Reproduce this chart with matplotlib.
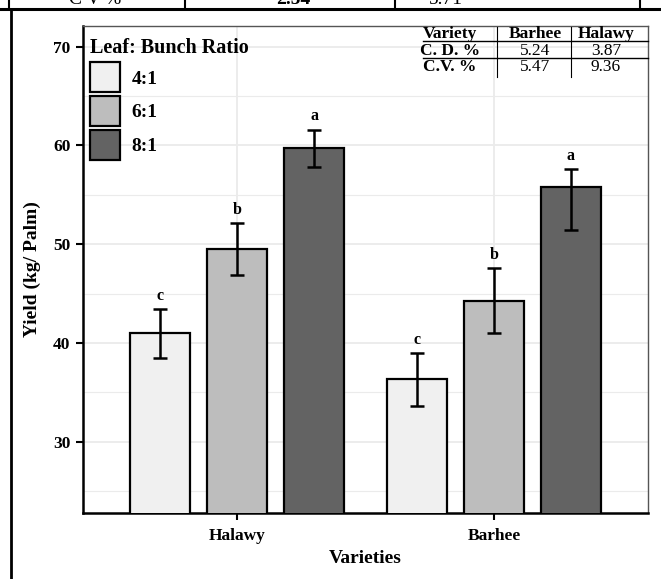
import numpy as np
import matplotlib
matplotlib.use("Agg")
import matplotlib.pyplot as plt
from matplotlib.patches import Patch
from matplotlib.lines import Line2D

plt.rcParams['font.family'] = ['Liberation Serif', 'DejaVu Serif']
plt.rcParams['font.weight'] = 'bold'

# data
varieties = ['Halawy', 'Barhee']
ratios = ['4:1', '6:1', '8:1']
colors = ['#F0F0F0', '#BDBDBD', '#636363']
yield_vals = [[41.0, 49.5, 59.75],   # Halawy
              [36.3, 44.3, 55.8]]    # Barhee
err_low = [[2.55, 2.6, 1.9],
           [2.65, 3.25, 4.4]]
err_high = [[2.45, 2.6, 1.85],
            [2.65, 3.25, 1.8]]
letters = [['c', 'b', 'a'],
           ['c', 'b', 'a']]

# little stats table in the corner
tbl_head = ['Variety', 'Barhee', 'Halawy']
tbl_rows = [['C. D. %', '5.24', '3.87'],
            ['C.V. %', '5.47', '9.36']]
# cut-off row of the document table above the chart
top_row = ['C V %', '2.54', '5.71']

W, H = 661, 579
fig = plt.figure(figsize=(W / 100, H / 100), dpi=100)
ax = fig.add_axes([83 / W, 1 - 513 / H, 565 / W, 487 / H])

width = 0.236
step = 0.30
xpos = np.arange(1, len(varieties) + 1)

for j, r in enumerate(ratios):
    xs = xpos + (j - 1) * step
    vals = [yield_vals[i][j] for i in range(len(varieties))]
    lo = [err_low[i][j] for i in range(len(varieties))]
    hi = [err_high[i][j] for i in range(len(varieties))]
    ax.bar(xs, vals, width=width, color=colors[j], edgecolor='black',
           linewidth=1.6, zorder=3)
    ax.errorbar(xs, vals, yerr=[lo, hi], fmt='none', ecolor='black',
                elinewidth=1.8, capsize=4.8, capthick=1.8, zorder=4)
    for i in range(len(varieties)):
        ax.annotate(letters[i][j], (xs[i], vals[i] + hi[i]),
                    xytext=(0, 9.5), textcoords='offset points',
                    ha='center', va='center', fontsize=11.5, fontweight='bold')

ax.set_xlim(0.4, 2.6)
ax.set_ylim(22.78, 72.1)
ax.set_xticks(xpos)
ax.set_xticklabels(varieties)
ax.set_yticks([30, 40, 50, 60, 70])
ax.set_yticks([25, 35, 45, 55, 65], minor=True)
ax.grid(which='major', color='#EBEBEB', linewidth=1.3, zorder=0)
ax.grid(which='minor', axis='y', color='#EBEBEB', linewidth=0.8, zorder=0)
ax.set_axisbelow(True)
ax.tick_params(axis='both', which='major', length=5, width=1.5, color='black',
               labelsize=12.5, pad=4)
ax.tick_params(axis='x', which='major', pad=6)
ax.tick_params(axis='y', which='minor', length=0)
for lab in ax.get_xticklabels() + ax.get_yticklabels():
    lab.set_fontweight('bold')
for s in ['left', 'bottom']:
    ax.spines[s].set_linewidth(1.8)
    ax.spines[s].set_color('black')
for s in ['top', 'right']:
    ax.spines[s].set_linewidth(1.0)
    ax.spines[s].set_color('#555555')

ax.set_xlabel('Varieties', fontsize=14, fontweight='bold', labelpad=4)
ax.set_ylabel('Yield (kg/ Palm)', fontsize=14, fontweight='bold', labelpad=9)

handles = [Patch(facecolor=c, edgecolor='black', linewidth=1.6) for c in colors]
leg = ax.legend(handles, ratios, title='Leaf: Bunch Ratio', loc='upper left',
                bbox_to_anchor=(0.012, 0.975), frameon=False, fontsize=14,
                title_fontproperties={'weight': 'bold', 'size': 14.5},
                handlelength=1.55, handleheight=2.0, labelspacing=0.2,
                handletextpad=0.6, borderpad=0.0, borderaxespad=0.0,
                alignment='left')
leg._legend_box.sep = 3
for t in leg.get_texts():
    t.set_fontweight('bold')


# stats table, drawn in pixel positions of the figure
def px(x, y):
    return x / W, 1 - y / H


col_x = [450, 535, 606]
row_y = [34, 51, 67]
for k, txt in enumerate(tbl_head):
    fig.text(*px(col_x[k], row_y[0]), txt, ha='center', va='center',
             fontsize=12.5, fontweight='bold')
for r, row in enumerate(tbl_rows):
    for k, txt in enumerate(row):
        fig.text(*px(col_x[k], row_y[r + 1]), txt, ha='center', va='center',
                 fontsize=12.5, fontweight='bold' if k == 0 else 'normal')
for yline in [40.5, 58]:
    fig.add_artist(Line2D([423 / W, 648 / W], [1 - yline / H] * 2,
                          color='black', linewidth=1.0))
for xline in [497, 571]:
    fig.add_artist(Line2D([xline / W] * 2, [1 - 27 / H, 1 - 77 / H],
                          color='black', linewidth=0.8))

# frame of the document page around the chart
fig.add_artist(Line2D([0, 1], [1 - 8.5 / H] * 2, color='black', linewidth=2.2))
fig.add_artist(Line2D([10.5 / W] * 2, [1 - 9 / H, 0], color='black', linewidth=2.0))
for xline in [9, 185, 395, 640]:
    fig.add_artist(Line2D([xline / W] * 2, [1, 1 - 9 / H], color='black',
                          linewidth=1.5))
for xc, txt in zip([95, 293, 446], top_row):
    fig.text(xc / W, 1 - 4 / H, txt, ha='center', va='baseline', fontsize=14,
             fontweight='bold' if txt == '2.54' else 'normal')

fig.savefig('out.png', dpi=100)
